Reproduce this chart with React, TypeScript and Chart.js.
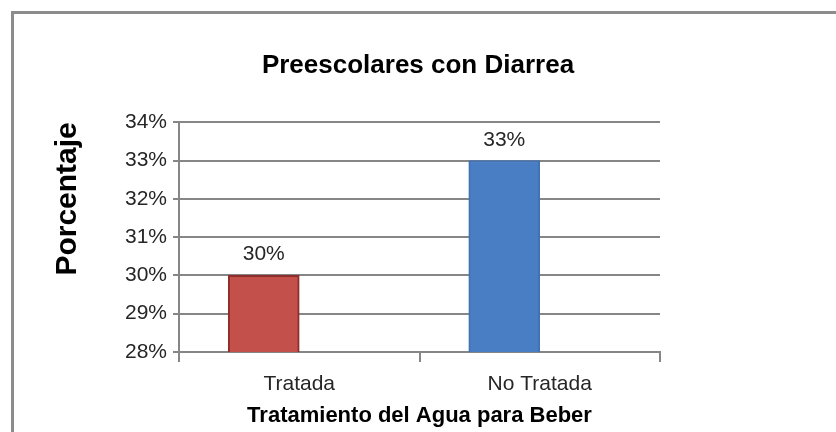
import React, { useEffect, useRef } from "react";
import { Chart, registerables } from "chart.js";

Chart.register(...registerables);

const categories = ["Tratada", "No Tratada"];
const porcentajes = [30, 33];
const barColors = ["#C4504C", "#4A7EC4"];
const barBorders = ["#8E2E2C", "#4272B4"];
const yMin = 28;
const yMax = 34;
const yStep = 1;
const chartTitle = "Preescolares con Diarrea";
const yTitle = "Porcentaje";
const xTitle = "Tratamiento del Agua para Beber";

const FF = "'Liberation Sans', Arial, sans-serif";

const dataLabelPlugin = {
  id: "dataLabels",
  afterDatasetsDraw(chart: any) {
    const ctx = chart.ctx;
    const meta = chart.getDatasetMeta(0);
    ctx.save();
    ctx.font = `21px ${FF}`;
    ctx.fillStyle = "#262626";
    ctx.textAlign = "center";
    ctx.textBaseline = "alphabetic";
    meta.data.forEach((bar: any, i: number) => {
      const v = chart.data.datasets[0].data[i];
      if (v == null) return;
      ctx.fillText(`${v}%`, bar.x, bar.y - 15);
    });
    ctx.restore();
  },
};

export default function App() {
  const ref = useRef<HTMLCanvasElement | null>(null);
  useEffect(() => {
    if (!ref.current) return;
    const chart = new Chart(ref.current, {
      type: "bar",
      data: {
        labels: categories,
        datasets: [
          {
            label: "Porcentaje",
            data: porcentajes,
            backgroundColor: barColors,
            borderColor: barBorders,
            borderWidth: 2,
            barThickness: 71,
          },
          {
            label: "",
            data: categories.map(() => null),
            barThickness: 71,
          },
        ],
      },
      options: {
        animation: false,
        responsive: false,
        devicePixelRatio: 1,
        layout: { padding: { left: 0, right: 0, top: 0, bottom: 0 } },
        plugins: {
          legend: { display: false },
          tooltip: { enabled: false },
          title: {
            display: true,
            text: chartTitle,
            color: "#000000",
            font: { family: FF, size: 26, weight: "bold" },
            padding: { top: 50, bottom: 41 },
          },
        },
        scales: {
          x: {
            afterFit: (s: any) => {
              s.height = 80;
            },
            grid: {
              display: true,
              drawOnChartArea: false,
              drawTicks: true,
              tickLength: 10,
              color: "#868686",
              lineWidth: 2,
            },
            border: { display: true, color: "#868686", width: 2 },
            ticks: {
              color: "#262626",
              font: { family: FF, size: 21 },
              padding: 10,
            },
            title: {
              display: true,
              text: xTitle,
              color: "#000000",
              font: { family: FF, size: 22, weight: "bold" },
              padding: { top: 0, bottom: 3 },
            },
          },
          y: {
            min: yMin,
            max: yMax,
            afterFit: (s: any) => {
              s.width = 179;
            },
            ticks: {
              stepSize: yStep,
              color: "#262626",
              font: { family: FF, size: 21 },
              padding: 6,
              callback: (v: any) => `${v}%`,
            },
            grid: {
              color: "#868686",
              lineWidth: 2,
              tickLength: 6,
            },
            border: { display: true, color: "#868686", width: 2 },
            title: {
              display: true,
              text: yTitle,
              align: "end",
              color: "#000000",
              font: { family: FF, size: 30, weight: "bold" },
              padding: { top: 50, bottom: 0 },
            },
          },
          yRight: {
            position: "right",
            min: yMin,
            max: yMax,
            display: true,
            afterFit: (s: any) => {
              s.width = 176;
            },
            grid: { display: false, drawOnChartArea: false, drawTicks: false },
            border: { display: false },
            ticks: { display: false },
          },
        },
      },
      plugins: [dataLabelPlugin],
    } as any);
    return () => chart.destroy();
  }, []);

  return (
    <div style={{ position: "fixed", left: 0, top: 0, width: 836, height: 432, background: "#ffffff" }}>
      <div
        style={{
          position: "absolute",
          left: 11,
          top: 11,
          width: 836,
          height: 432,
          borderLeft: "3px solid #8c8c8c",
          borderTop: "3px solid #8c8c8c",
          boxSizing: "border-box",
        }}
      />
      <canvas ref={ref} width={836} height={432} style={{ position: "absolute", left: 0, top: 0 }} />
    </div>
  );
}
